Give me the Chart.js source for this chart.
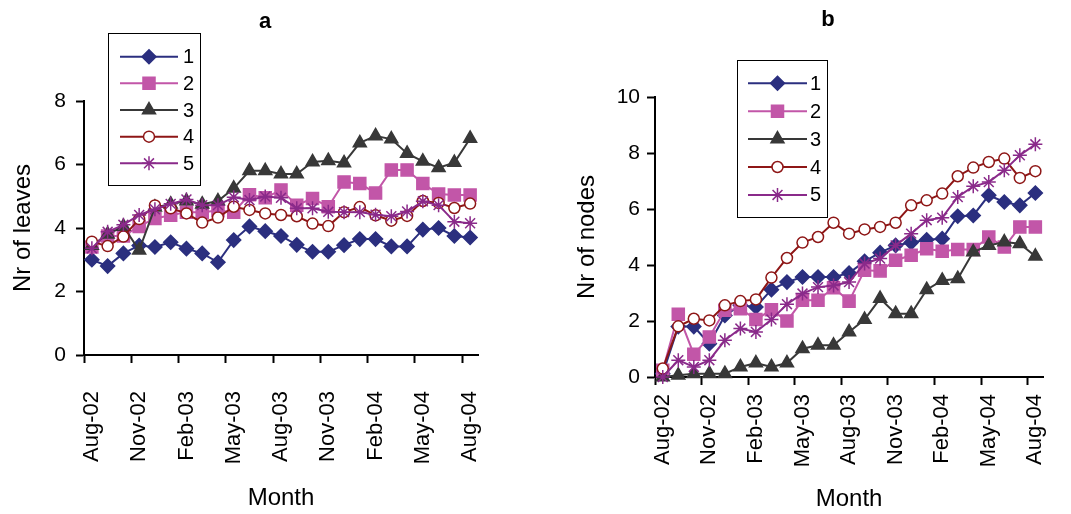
<!DOCTYPE html>
<html>
<head>
<meta charset="utf-8">
<script src="https://cdn.jsdelivr.net/npm/chart.js@4.4.1/dist/chart.umd.min.js"></script>
<style>
  body { margin: 0; background: #fff; }
  .panel { position: absolute; top: 0; }
</style>
</head>
<body>
<div class="panel" style="left:0px"><canvas id="leaves-chart" width="535" height="514"></canvas></div>
<div class="panel" style="left:535px"><canvas id="nodes-chart" width="536" height="514"></canvas></div>
<script>
// monthly samples, Aug-02 .. Aug-04
const months = [
  'Aug-02', 'Sep-02', 'Oct-02', 'Nov-02', 'Dec-02', 'Jan-03', 'Feb-03', 'Mar-03', 'Apr-03',
  'May-03', 'Jun-03', 'Jul-03', 'Aug-03', 'Sep-03', 'Oct-03', 'Nov-03', 'Dec-03', 'Jan-04',
  'Feb-04', 'Mar-04', 'Apr-04', 'May-04', 'Jun-04', 'Jul-04', 'Aug-04'
];
const seriesNames = ['1', '2', '3', '4', '5'];

// panel a: number of leaves
const leaves1 = [3.0, 2.8, 3.2, 3.45, 3.4, 3.55, 3.35, 3.2, 2.92, 3.62, 4.05, 3.9, 3.75, 3.47, 3.25, 3.25, 3.46, 3.65, 3.65, 3.42, 3.42, 3.95, 4.0, 3.75, 3.7];
const leaves2 = [3.4, 3.75, 3.75, 4.05, 4.3, 4.4, 4.5, 4.5, 4.55, 4.5, 5.05, 4.95, 5.2, 4.72, 4.93, 4.67, 5.45, 5.4, 5.1, 5.83, 5.83, 5.4, 5.07, 5.04, 5.04];
const leaves3 = [3.45, 3.8, 4.05, 3.3, 4.65, 4.75, 4.85, 4.75, 4.85, 5.25, 5.8, 5.8, 5.7, 5.7, 6.08, 6.12, 6.05, 6.68, 6.9, 6.8, 6.35, 6.1, 5.9, 6.06, 6.82];
const leaves4 = [3.57, 3.43, 3.73, 4.28, 4.71, 4.62, 4.46, 4.17, 4.33, 4.67, 4.57, 4.46, 4.41, 4.37, 4.14, 4.06, 4.5, 4.66, 4.4, 4.23, 4.38, 4.85, 4.79, 4.63, 4.77];
const leaves5 = [3.36, 3.88, 4.1, 4.41, 4.59, 4.76, 4.9, 4.72, 4.72, 4.97, 4.88, 4.99, 4.95, 4.62, 4.62, 4.51, 4.5, 4.5, 4.42, 4.37, 4.52, 4.84, 4.72, 4.2, 4.15];

// panel b: number of nodes
const nodes1 = [0.12, 1.8, 1.8, 1.19, 2.2, 2.56, 2.5, 3.12, 3.39, 3.57, 3.57, 3.57, 3.71, 4.13, 4.44, 4.7, 4.8, 4.9, 4.94, 5.74, 5.77, 6.49, 6.25, 6.13, 6.57];
const nodes2 = [0.24, 2.24, 0.81, 1.43, 2.38, 2.44, 2.05, 2.4, 2.0, 2.74, 2.74, 3.19, 2.71, 3.81, 3.79, 4.17, 4.35, 4.58, 4.49, 4.55, 4.55, 5.0, 4.64, 5.36, 5.36];
const nodes3 = [0.0, 0.06, 0.12, 0.12, 0.12, 0.36, 0.5, 0.36, 0.5, 1.01, 1.13, 1.13, 1.61, 2.05, 2.8, 2.26, 2.26, 3.12, 3.45, 3.51, 4.46, 4.7, 4.82, 4.76, 4.31];
const nodes4 = [0.3, 1.81, 2.08, 2.02, 2.56, 2.71, 2.77, 3.55, 4.25, 4.8, 5.0, 5.51, 5.12, 5.27, 5.36, 5.51, 6.13, 6.31, 6.55, 7.17, 7.48, 7.68, 7.8, 7.11, 7.35];
const nodes5 = [0.0, 0.6, 0.36, 0.6, 1.31, 1.73, 1.61, 2.05, 2.6, 2.98, 3.21, 3.27, 3.39, 4.05, 4.23, 4.7, 5.12, 5.6, 5.69, 6.43, 6.81, 6.96, 7.38, 7.92, 8.31];

const FONT = "'Liberation Sans', Arial, sans-serif";
Chart.defaults.font.family = FONT;
Chart.defaults.color = '#000';

const seriesStyles = [
  { line: '#2b2f7f', fill: '#2b2f7f', pointStyle: 'rectRot', radius: 7 },
  { line: '#c256a8', fill: '#c256a8', pointStyle: 'rect', radius: 8.5 },
  { line: '#383838', fill: '#383838', pointStyle: 'triangle', radius: 7.5 },
  { line: '#8e1616', fill: '#ffffff', pointStyle: 'circle', radius: 5.5 },
  { line: '#8a2a8a', fill: '#8a2a8a', pointStyle: 'star', radius: 7 }
];

const build_datasets = (seriesData) => seriesData.map((values, i) => {
  const st = seriesStyles[i];
  return {
    label: seriesNames[i],
    data: values,
    borderColor: st.line,
    borderWidth: 2,
    pointStyle: st.pointStyle,
    pointRadius: st.radius,
    pointHoverRadius: st.radius,
    pointBackgroundColor: st.fill,
    pointBorderColor: st.line,
    pointBorderWidth: 1.5,
    tension: 0,
    clip: false,
    order: seriesData.length - 1 - i // later series sit on top, like the original
  };
});

// boxed legend + panel letter, drawn at fixed spots inside the canvas
const boxLegend = {
  id: 'boxLegend',
  afterDraw(chart, args, opts) {
    const { ctx } = chart;
    ctx.save();
    ctx.fillStyle = '#fff';
    ctx.fillRect(opts.x, opts.y, opts.w, opts.h);
    ctx.strokeStyle = '#000';
    ctx.lineWidth = 1;
    ctx.strokeRect(opts.x + 0.5, opts.y + 0.5, opts.w, opts.h);

    chart.data.datasets.forEach((ds, i) => {
      const y = opts.row0 + i * opts.rowGap;
      ctx.strokeStyle = ds.borderColor;
      ctx.lineWidth = 2;
      ctx.beginPath();
      ctx.moveTo(opts.lineX0, y);
      ctx.lineTo(opts.lineX1, y);
      ctx.stroke();

      ctx.fillStyle = ds.pointBackgroundColor;
      ctx.strokeStyle = ds.pointBorderColor;
      ctx.lineWidth = ds.pointBorderWidth;
      Chart.helpers.drawPoint(ctx, {
        pointStyle: ds.pointStyle,
        radius: ds.pointRadius,
        rotation: 0,
        borderWidth: ds.pointBorderWidth
      }, (opts.lineX0 + opts.lineX1) / 2, y);

      ctx.fillStyle = '#000';
      ctx.font = `20px ${FONT}`;
      ctx.textAlign = 'left';
      ctx.textBaseline = 'middle';
      ctx.fillText(ds.label, opts.textX, y + 1);
    });

    ctx.fillStyle = '#000';
    ctx.font = `bold 22px ${FONT}`;
    ctx.textAlign = 'center';
    ctx.textBaseline = 'alphabetic';
    ctx.fillText(opts.title, opts.titleX, opts.titleY);
    ctx.restore();
  }
};

const xTickFont = { size: 22 };
const yTickFont = { size: 21 };
const axisTitleFont = { size: 24 };

const make_chart = (canvasId, seriesData, cfg) => {
  const ctx = document.getElementById(canvasId).getContext('2d');
  return new Chart(ctx, {
    type: 'line',
    data: { labels: months, datasets: build_datasets(seriesData) },
    plugins: [boxLegend],
    options: {
      responsive: false,
      animation: false,
      devicePixelRatio: 1,
      layout: { padding: cfg.padding },
      plugins: {
        legend: { display: false },
        tooltip: { enabled: false },
        title: { display: false },
        boxLegend: cfg.legend
      },
      scales: {
        x: {
          type: 'category',
          offset: true,
          grid: {
            offset: true,
            drawOnChartArea: false,
            drawTicks: true,
            tickLength: 8,
            tickWidth: 2,
            tickColor: (c) => (c.index !== undefined && c.index % 3 === 0 ? '#000' : 'rgba(0,0,0,0)')
          },
          border: { display: true, color: '#000', width: 2 },
          ticks: {
            autoSkip: false,
            minRotation: 90,
            maxRotation: 90,
            padding: cfg.xTickPadding,
            color: '#000',
            font: xTickFont,
            callback(value, index) {
              return index % 3 === 0 ? this.getLabelForValue(value) : '';
            }
          },
          title: { display: true, text: 'Month', font: axisTitleFont, color: '#000', padding: cfg.xTitlePadding },
          afterFit(scale) { scale.height = cfg.xHeight; }
        },
        y: {
          min: 0,
          max: cfg.yMax,
          ticks: { stepSize: 2, padding: cfg.yTickPadding, color: '#000', font: yTickFont },
          grid: { drawOnChartArea: false, tickLength: 8, tickWidth: 2, tickColor: '#000' },
          border: { display: true, color: '#000', width: 2 },
          title: { display: true, text: cfg.yTitle, font: axisTitleFont, color: '#000', padding: cfg.yTitlePadding },
          afterFit(scale) { scale.width = cfg.yWidth; }
        }
      }
    }
  });
};

make_chart('leaves-chart', [leaves1, leaves2, leaves3, leaves4, leaves5], {
  padding: { left: 0, right: 57, top: 101, bottom: 0 },
  yMax: 8,
  yTitle: 'Nr of leaves',
  yWidth: 84,
  yTickPadding: 10,
  yTitlePadding: { top: 9, bottom: 0 },
  xHeight: 159,
  xTickPadding: 28,
  xTitlePadding: { top: 1, bottom: 1 },
  legend: { x: 108, y: 33, w: 92, h: 152, row0: 56.7, rowGap: 26.65, lineX0: 120, lineX1: 178, textX: 183, title: 'a', titleX: 265, titleY: 28 }
});

make_chart('nodes-chart', [nodes1, nodes2, nodes3, nodes4, nodes5], {
  padding: { left: 38, right: 12, top: 97, bottom: 0 },
  yMax: 10,
  yTitle: 'Nr of nodes',
  yWidth: 82,
  yTickPadding: 7,
  yTitlePadding: { top: 0, bottom: 0 },
  xHeight: 137,
  xTickPadding: 9,
  xTitlePadding: { top: 0, bottom: 0 },
  legend: { x: 202, y: 60, w: 90, h: 157, row0: 83.3, rowGap: 27.9, lineX0: 213, lineX1: 272, textX: 275, title: 'b', titleX: 293, titleY: 26 }
});
</script>
</body>
</html>
